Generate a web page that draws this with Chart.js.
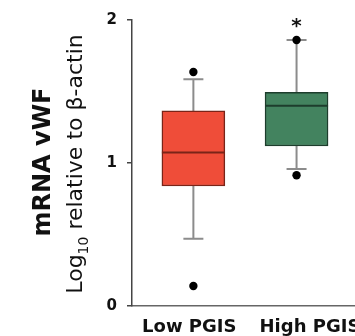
<!DOCTYPE html>
<html>
<head>
<meta charset="utf-8">
<script src="https://cdn.jsdelivr.net/npm/chart.js@4"></script>
<style>
  html, body { margin: 0; padding: 0; background: #fff; }
  #wrap { width: 355px; height: 336px; overflow: hidden; position: relative; }
</style>
</head>
<body>
<div id="wrap"><canvas id="chart" width="400" height="336"></canvas></div>
<script>
// values (log10 mRNA vWF relative to beta-actin)
const groups = ["Low PGIS", "High PGIS"];
const q1 = [0.839, 1.119];
const median = [1.073, 1.40];
const q3 = [1.364, 1.495];
const whiskerLow = [0.47, 0.958];
const whiskerHigh = [1.585, 1.86];
const outliers = [[1.636, 0.14], [1.86, 0.914]];
const significance = ["", "*"];

const fillColors = ["#ef4d39", "#43835f"];
const edgeColors = ["#7a2418", "#1d3d2c"];
const labelPos = [0.96, 2.13];

const boxData = groups.map((g, i) => ({ x: i + 1, y: [q1[i], q3[i]] }));
const outlierData = [];
outliers.forEach((list, i) => list.forEach(v => outlierData.push({ x: i + 1, y: v })));

const boxExtras = {
	id: "boxExtras",
	beforeDatasetsDraw(chart) {
		const { ctx, scales: { x, y } } = chart;
		ctx.save();
		ctx.strokeStyle = "#8c8c8c";
		ctx.lineWidth = 2;
		groups.forEach((g, i) => {
			const cx = x.getPixelForValue(i + 1);
			ctx.beginPath();
			ctx.moveTo(cx, y.getPixelForValue(whiskerHigh[i]));
			ctx.lineTo(cx, y.getPixelForValue(q3[i]));
			ctx.moveTo(cx, y.getPixelForValue(q1[i]));
			ctx.lineTo(cx, y.getPixelForValue(whiskerLow[i]));
			[whiskerHigh[i], whiskerLow[i]].forEach(v => {
				const py = y.getPixelForValue(v);
				ctx.moveTo(cx - 10, py);
				ctx.lineTo(cx + 10, py);
			});
			ctx.stroke();
		});
		ctx.restore();
	},
	afterDatasetDraw(chart, args) {
		if (args.index !== 0) return;
		const { ctx, scales: { x, y } } = chart;
		const bars = chart.getDatasetMeta(0).data;
		ctx.save();
		ctx.lineWidth = 2;
		groups.forEach((g, i) => {
			const bar = bars[i];
			const py = y.getPixelForValue(median[i]);
			ctx.strokeStyle = edgeColors[i];
			ctx.beginPath();
			ctx.moveTo(bar.x - bar.width / 2, py);
			ctx.lineTo(bar.x + bar.width / 2, py);
			ctx.stroke();
		});
		ctx.restore();
	},
	afterDraw(chart) {
		const { ctx, scales: { x, y } } = chart;
		ctx.save();
		// significance marks
		ctx.fillStyle = "#111";
		ctx.font = "bold 20px 'DejaVu Sans'";
		ctx.textAlign = "center";
		ctx.textBaseline = "alphabetic";
		groups.forEach((g, i) => {
			if (!significance[i]) return;
			const top = Math.max(whiskerHigh[i], ...outliers[i]);
			ctx.fillText(significance[i], x.getPixelForValue(i + 1), y.getPixelForValue(top) - 8);
		});
		// axis title, two lines
		ctx.fillStyle = "#111";
		ctx.save();
		ctx.translate(50, 162);
		ctx.rotate(-Math.PI / 2);
		ctx.font = "bold 24px 'DejaVu Sans'";
		ctx.textAlign = "center";
		ctx.fillText("mRNA vWF", 0, 0);
		ctx.restore();

		ctx.save();
		ctx.translate(82, 164);
		ctx.rotate(-Math.PI / 2);
		const big = "22px 'DejaVu Sans'";
		const small = "14px 'DejaVu Sans'";
		const parts = [["Log", big, 0], ["10", small, 6], [" relative to β-actin", big, 0]];
		let total = 0;
		parts.forEach(p => { ctx.font = p[1]; total += ctx.measureText(p[0]).width; });
		let cx = -total / 2;
		ctx.textAlign = "left";
		parts.forEach(p => {
			ctx.font = p[1];
			ctx.fillText(p[0], cx, p[2]);
			cx += ctx.measureText(p[0]).width;
		});
		ctx.restore();
		ctx.restore();
	}
};

new Chart(document.getElementById("chart"), {
	type: "bar",
	data: {
		datasets: [
			{
				type: "bar",
				data: boxData,
				backgroundColor: fillColors,
				borderColor: edgeColors,
				borderWidth: 1.5,
				borderSkipped: false,
				barThickness: 63,
				order: 2,
			},
			{
				type: "scatter",
				data: outlierData,
				pointRadius: 4.2,
				pointBackgroundColor: "#000",
				pointBorderWidth: 0,
				order: 1,
			},
		],
	},
	options: {
		responsive: false,
		animation: false,
		layout: { padding: { top: 20, left: 0, right: 0, bottom: 0 } },
		plugins: { legend: { display: false }, tooltip: { enabled: false } },
		scales: {
			x: {
				type: "linear",
				offset: false,
				min: 0.405,
				max: 2.962,
				afterBuildTicks: s => { s.ticks = labelPos.map(v => ({ value: v })); },
				afterFit: s => { s.height = 30; },
				grid: { display: false },
				border: { display: true, color: "#666", width: 1.5 },
				ticks: {
					maxRotation: 0,
					autoSkip: false,
					padding: 3,
					color: "#111",
					font: { family: "DejaVu Sans", weight: "bold", size: 18 },
					callback: (v, i) => groups[i],
				},
			},
			y: {
				min: 0,
				max: 2,
				afterFit: s => { s.width = 132; },
				grid: { drawOnChartArea: false, drawTicks: true, tickLength: 5, color: "#444", lineWidth: 1.5 },
				border: { display: true, color: "#444", width: 1.5 },
				ticks: {
					stepSize: 1,
					padding: 10,
					color: "#111",
					font: { family: "DejaVu Sans", weight: "bold", size: 15 },
				},
			},
		},
	},
	plugins: [boxExtras],
});
</script>
</body>
</html>
